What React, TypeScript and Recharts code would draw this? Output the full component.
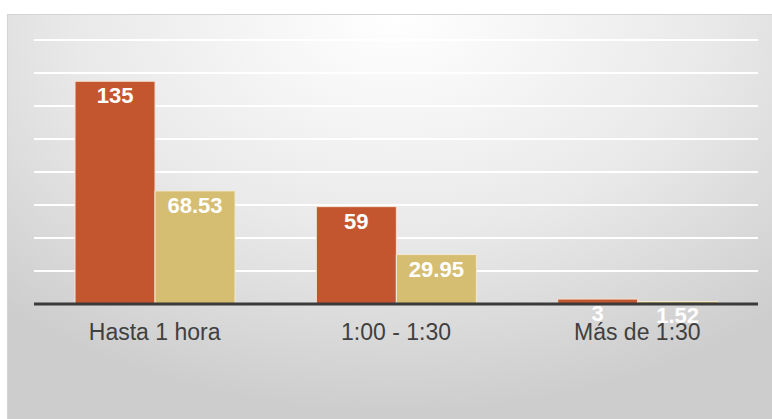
import { Bar, BarChart, CartesianGrid, LabelList, XAxis, YAxis } from "recharts"

const categories = ["Hasta 1 hora", "1:00 - 1:30", "Más de 1:30"]
const seriesA = [135, 59, 3]
const seriesB = [68.53, 29.95, 1.52]
const yTicks = [0, 20, 40, 60, 80, 100, 120, 140, 160]

const data = categories.map((name, i) => ({ name, a: seriesA[i], b: seriesB[i] }))

const font = "'Liberation Sans', Arial, sans-serif"

// white bold value label inside the top of each bar
const InsideLabel = (props: any) => {
  const { x, y, width, value } = props
  return (
    <text
      x={x + width / 2}
      y={y + 22}
      textAnchor="middle"
      fill="#ffffff"
      fontSize={22}
      fontWeight="bold"
      fontFamily={font}
    >
      {value}
    </text>
  )
}

export default function App() {
  return (
    <div style={{ position: "fixed", left: 0, top: 0, width: 772, height: 419, overflow: "hidden", background: "#fff" }}>
      <div
        style={{
          position: "absolute",
          left: 7,
          top: 14,
          width: 772,
          height: 419,
          border: "1px solid #d4d4d4",
          background: "radial-gradient(ellipse 75% 95% at 50% 0%, #ffffff 0%, #e9e9e9 55%, #cdcdcd 100%)",
        }}
      />
      <div style={{ position: "absolute", left: 0, top: 0 }}>
        <BarChart
          width={772}
          height={419}
          data={data}
          margin={{ top: 40, right: 14, left: 34, bottom: 85 }}
          barCategoryGap="17%"
          barGap={0}
        >
          <CartesianGrid horizontal vertical={false} stroke="#ffffff" strokeWidth={2} />
          <YAxis hide domain={[0, 160]} ticks={yTicks} />
          <XAxis
            dataKey="name"
            height={30}
            tickLine={false}
            axisLine={{ stroke: "#3a3a3a", strokeWidth: 3 }}
            tickMargin={14}
            tick={{ fill: "#404040", fontSize: 23, fontFamily: font }}
          />
          <Bar dataKey="a" fill="#C4562F" stroke="#f3e3d3" strokeWidth={1} isAnimationActive={false}>
            <LabelList dataKey="a" content={InsideLabel} />
          </Bar>
          <Bar dataKey="b" fill="#D5BD72" stroke="#f3e9d3" strokeWidth={1} isAnimationActive={false}>
            <LabelList dataKey="b" content={InsideLabel} />
          </Bar>
        </BarChart>
      </div>
    </div>
  )
}
